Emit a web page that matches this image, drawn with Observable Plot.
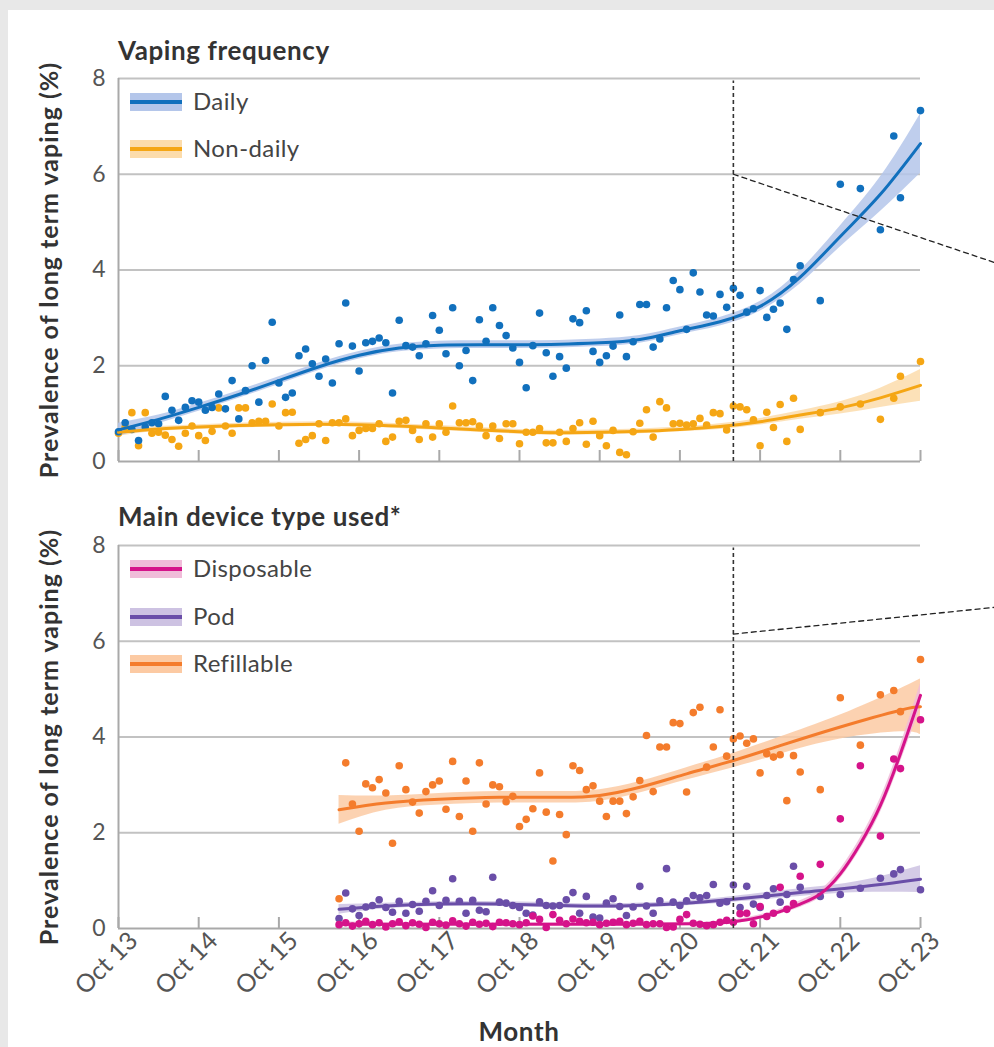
<!DOCTYPE html>
<html>
<head>
<meta charset="utf-8">
<script src="https://cdn.jsdelivr.net/npm/d3@7"></script>
<script src="https://cdn.jsdelivr.net/npm/@observablehq/plot@0.6"></script>
<style>
  html, body { margin: 0; padding: 0; background: #e8e8e8; }
  #page { position: relative; width: 994px; height: 1047px; overflow: hidden; font-family: Lato, "DejaVu Sans", sans-serif; }
  #card { position: absolute; left: 8px; top: 10px; right: 0; bottom: 0; background: #fff; }
  .abs { position: absolute; }
  .ptitle { font-weight: 700; font-size: 26px; letter-spacing: 0.6px; color: #333; line-height: 26px; white-space: nowrap; }
  .ylab { font-weight: 700; font-size: 25px; letter-spacing: 1px; color: #333; line-height: 30px; height: 30px; width: 460px; text-align: center; white-space: nowrap; transform: rotate(-90deg); transform-origin: 50% 50%; }
  .lg-sw { position: absolute; width: 52px; height: 18px; }
  .lg-ln { position: absolute; left: 0; right: 0; top: 7px; height: 4px; }
  .lg-tx { position: absolute; font-size: 24px; letter-spacing: 0.4px; color: #444; line-height: 1; white-space: nowrap; }
  svg { position: absolute; left: 0; }
</style>
</head>
<body>
<div id="page">
  <div id="card"></div>
</div>
<script>
// ---------- data ----------
const tickMonths = [0, 12, 24, 36, 48, 60, 72, 84, 96, 108, 120];
const tickLabels = ["Oct 13", "Oct 14", "Oct 15", "Oct 16", "Oct 17", "Oct 18", "Oct 19", "Oct 20", "Oct 21", "Oct 22", "Oct 23"];
const yTicks = [0, 2, 4, 6, 8];
const yGrid = [2, 4, 6, 8];

// months since Oct 2013
const topMonths = d3.range(0, 103).concat([105, 108, 111, 114, 116, 117, 120]);
const dailyValues = [
  0.62, 0.81, 0.67, 0.44, 0.72, 0.81, 0.79, 1.36, 1.07, 0.86,
  1.13, 1.27, 1.24, 1.07, 1.13, 1.41, 1.10, 1.69, 0.89, 1.48,
  2.00, 1.24, 2.11, 2.91, 1.64, 1.34, 1.43, 2.21, 2.35, 2.04,
  1.78, 2.14, 1.64, 2.46, 3.31, 2.41, 1.89, 2.48, 2.51, 2.58,
  2.48, 1.43, 2.95, 2.42, 2.39, 2.21, 2.46, 3.05, 2.74, 2.25,
  3.21, 2.00, 2.32, 1.69, 2.96, 2.51, 3.21, 2.84, 2.63, 2.37,
  2.07, 1.54, 2.42, 3.10, 2.27, 1.78, 2.19, 1.95, 2.98, 2.90,
  3.15, 2.30, 2.07, 2.21, 2.41, 3.06, 2.19, 2.50, 3.28, 3.28,
  2.39, 2.56, 3.21, 3.78, 3.59, 2.76, 3.94, 3.54, 3.06, 3.04,
  3.49, 3.22, 3.62, 3.47, 3.12, 3.19, 3.57, 3.01, 3.18, 3.31,
  2.76, 3.80, 4.09,
  3.36, 5.79, 5.70, 4.84, 6.80, 5.51, 7.33
];
const nondailyValues = [
  0.59, 0.72, 1.02, 0.33, 1.02, 0.59, 0.61, 0.55, 0.46, 0.32,
  0.59, 0.74, 0.54, 0.44, 0.63, 1.12, 0.74, 0.59, 1.12, 1.12,
  0.81, 0.84, 0.84, 1.20, 0.74, 1.02, 1.03, 0.38, 0.46, 0.54,
  0.79, 0.44, 0.81, 0.81, 0.89, 0.54, 0.65, 0.69, 0.69, 0.79,
  0.42, 0.51, 0.84, 0.86, 0.65, 0.46, 0.79, 0.51, 0.79, 0.61,
  1.16, 0.81, 0.81, 0.83, 0.74, 0.54, 0.74, 0.48, 0.79, 0.79,
  0.37, 0.61, 0.61, 0.69, 0.39, 0.39, 0.61, 0.42, 0.69, 0.81,
  0.36, 0.84, 0.54, 0.33, 0.65, 0.19, 0.14, 0.62, 0.80, 1.08,
  0.51, 1.25, 1.12, 0.79, 0.80, 0.76, 0.79, 0.90, 0.76, 1.02,
  1.00, 0.66, 1.16, 1.14, 1.08, 0.87, 0.33, 1.03, 0.71, 1.19,
  0.42, 1.32, 0.67,
  1.02, 1.14, 1.20, 0.88, 1.32, 1.78, 2.09
];

const deviceMonths = d3.range(33, 103).concat([105, 108, 111, 114, 116, 117, 120]);
const refillableValues = [
  0.62, 3.46, 2.60, 2.03, 3.02, 2.94, 3.11, 2.83, 1.78, 3.40,
  2.90, 2.64, 2.41, 2.86, 3.00, 3.08, 2.49, 3.49, 2.34, 3.08,
  2.03, 3.46, 2.60, 3.00, 2.96, 2.65, 2.76, 2.13, 2.28, 2.50,
  3.25, 2.43, 1.41, 2.38, 1.96, 3.40, 3.30, 2.90, 2.98, 2.66,
  2.34, 2.66, 2.66, 2.40, 2.75, 3.09, 4.03, 2.86, 3.79, 3.79,
  4.30, 4.28, 2.85, 4.51, 4.62, 3.37, 3.79, 4.57, 3.60, 3.96,
  4.02, 3.87, 3.96, 3.25, 3.65, 3.58, 3.63, 2.67, 3.61, 3.27,
  2.90, 4.82, 3.83, 4.88, 4.97, 4.53, 5.62
];
const podValues = [
  0.21, 0.74, 0.41, 0.27, 0.45, 0.48, 0.60, 0.44, 0.34, 0.57,
  0.32, 0.50, 0.36, 0.57, 0.79, 0.48, 0.59, 1.04, 0.57, 0.32,
  0.59, 0.38, 0.35, 1.07, 0.55, 0.53, 0.48, 0.44, 0.32, 0.28,
  0.56, 0.48, 0.47, 0.48, 0.60, 0.75, 0.32, 0.67, 0.24, 0.22,
  0.53, 0.62, 0.46, 0.27, 0.45, 0.88, 0.47, 0.32, 0.58, 1.25,
  0.55, 0.48, 0.58, 0.69, 0.64, 0.69, 0.92, 0.53, 0.56, 0.91,
  0.44, 0.88, 0.51, 0.44, 0.69, 0.83, 0.55, 0.71, 1.30, 0.86,
  0.67, 0.71, 0.84, 1.05, 1.14, 1.23, 0.81
];
const disposableValues = [
  0.08, 0.12, 0.05, 0.10, 0.15, 0.08, 0.12, 0.03, 0.10, 0.14,
  0.06, 0.12, 0.09, 0.02, 0.13, 0.10, 0.07, 0.16, 0.10, 0.05,
  0.13, 0.09, 0.11, 0.04, 0.13, 0.12, 0.10, 0.08, 0.12, 0.26,
  0.19, 0.02, 0.29, 0.17, 0.10, 0.20, 0.15, 0.12, 0.13, 0.08,
  0.11, 0.13, 0.15, 0.08, 0.11, 0.15, 0.08, 0.10, 0.10, 0.02,
  0.03, 0.19, 0.29, 0.11, 0.09, 0.06, 0.08, 0.13, 0.17, 0.13,
  0.31, 0.32, 0.10, 0.46, 0.25, 0.32, 0.86, 0.40, 0.52, 1.09,
  1.34, 2.29, 3.40, 1.93, 3.54, 3.34, 4.36
];

// fitted trends: month, fit, half-width of 95% CI
const topFitMonths = [0, 6, 12, 18, 24, 30, 36, 42, 48, 54, 60, 66, 72, 78, 84, 90, 96, 102, 108, 114, 120];
const dailyFit     = [0.66, 0.88, 1.13, 1.40, 1.69, 1.98, 2.22, 2.37, 2.43, 2.44, 2.44, 2.45, 2.48, 2.55, 2.73, 2.92, 3.24, 3.85, 4.70, 5.58, 6.64];
const dailyHalf    = [0.14, 0.09, 0.08, 0.08, 0.08, 0.08, 0.08, 0.08, 0.08, 0.08, 0.08, 0.08, 0.08, 0.08, 0.08, 0.09, 0.10, 0.14, 0.22, 0.36, 0.62];
const nondailyFit  = [0.61, 0.68, 0.72, 0.75, 0.77, 0.78, 0.77, 0.74, 0.70, 0.66, 0.62, 0.60, 0.61, 0.63, 0.67, 0.73, 0.83, 0.97, 1.12, 1.33, 1.59];
const nondailyHalf = [0.08, 0.05, 0.05, 0.05, 0.05, 0.05, 0.05, 0.05, 0.05, 0.05, 0.05, 0.05, 0.05, 0.05, 0.05, 0.06, 0.07, 0.09, 0.13, 0.20, 0.33];

const dispFitMonths = [33, 42, 54, 66, 78, 86, 92, 98, 102, 105, 108, 111, 114, 117, 120];
const dispFit       = [0.09, 0.09, 0.09, 0.09, 0.09, 0.10, 0.14, 0.31, 0.51, 0.72, 1.14, 1.77, 2.57, 3.65, 4.87];
const dispHalf      = [0.05, 0.03, 0.03, 0.03, 0.03, 0.03, 0.04, 0.05, 0.07, 0.08, 0.10, 0.12, 0.15, 0.18, 0.25];
const podFitMonths  = [33, 40, 48, 57, 66, 75, 84, 92, 102, 111, 120];
const podFit        = [0.40, 0.47, 0.51, 0.51, 0.48, 0.47, 0.52, 0.61, 0.75, 0.87, 1.03];
const podHalf       = [0.10, 0.06, 0.05, 0.05, 0.05, 0.05, 0.05, 0.06, 0.08, 0.12, 0.28];
const refFitMonths  = [33, 40, 48, 57, 66, 72, 78, 85, 92, 99, 108, 117, 120];
const refFit        = [2.48, 2.62, 2.70, 2.74, 2.74, 2.78, 2.95, 3.23, 3.51, 3.82, 4.21, 4.56, 4.63];
const refHalf       = [0.30, 0.15, 0.12, 0.12, 0.12, 0.12, 0.12, 0.13, 0.15, 0.18, 0.25, 0.45, 0.58];

// annotations
const markerMonth = 92;             // Jun 2021 dashed marker
const topConnector = [[92, 6.00], [131.2, 4.15]];
const bottomConnector = [[92, 6.15], [131.2, 6.71]];

const yLabel = "Prevalence of long term vaping (%)";

const colors = {
  Daily: ["#1170bd", "#b4c6ea"],
  "Non-daily": ["#f5a614", "#fcdcab"],
  Disposable: ["#d5138a", "#f0bcd9"],
  Pod: ["#6a4ea8", "#cdc2e2"],
  Refillable: ["#f47c2c", "#fccaa3"]
};

// ---------- helpers ----------
const pts = (months, vals) => months.map((m, i) => ({m, v: vals[i]}));
const fit = (months, vals, half) => months.map((m, i) => ({m, v: vals[i], lo: vals[i] - half[i], hi: vals[i] + half[i]}));

function seriesMarks(points, fitRows, name) {
  const [c, band] = colors[name];
  return {
    band: Plot.areaY(fitRows, {x: "m", y1: "lo", y2: "hi", curve: "natural", fill: band, fillOpacity: 0.85}),
    dots: Plot.dot(points, {x: "m", y: "v", r: 3.8, fill: c, stroke: "none"}),
    line: Plot.line(fitRows, {x: "m", y: "v", curve: "natural", stroke: c, strokeWidth: 3})
  };
}

function frameMarks() {
  return [
    Plot.gridY(yGrid, {stroke: "#c2c2c2", strokeOpacity: 1, strokeWidth: 2}),
    Plot.axisY(yTicks, {tickSize: 0, tickPadding: 13, fontSize: 23, color: "#555", label: null}),
    Plot.ruleX([0], {y1: 0, y2: 8, stroke: "#a9a9a9", strokeWidth: 2}),
    Plot.ruleY([0], {stroke: "#a9a9a9", strokeWidth: 2}),
    Plot.ruleX(tickMonths, {y1: 0, y2: 0.23, stroke: "#a9a9a9", strokeWidth: 2})
  ];
}

const dashedMarks = (conn) => [
  Plot.ruleX([markerMonth], {y1: 0, y2: 7.95, stroke: "#333", strokeWidth: 1.6, strokeDasharray: "4,3"}),
  Plot.line(conn, {x: d => d[0], y: d => d[1], stroke: "#222", strokeWidth: 1.3, strokeDasharray: "5,4"})
];

const common = {
  width: 994, marginLeft: 118, marginRight: 74,
  x: {domain: [0, 120], axis: null},
  y: {domain: [0, 8], axis: null},
  style: {background: "transparent", fontFamily: "Lato, 'DejaVu Sans', sans-serif", overflow: "visible"}
};

// ---------- top panel ----------
const sD = seriesMarks(pts(topMonths, dailyValues), fit(topFitMonths, dailyFit, dailyHalf), "Daily");
const sN = seriesMarks(pts(topMonths, nondailyValues), fit(topFitMonths, nondailyFit, nondailyHalf), "Non-daily");
const topPlot = Plot.plot({
  ...common, height: 480, marginTop: 78, marginBottom: 19,
  marks: [
    ...frameMarks(),
    sN.band, sD.band,
    sN.dots, sD.dots,
    sN.line, sD.line,
    ...dashedMarks(topConnector)
  ]
});
topPlot.style.top = "0px";

// ---------- bottom panel ----------
const sR = seriesMarks(pts(deviceMonths, refillableValues), fit(refFitMonths, refFit, refHalf), "Refillable");
const sP = seriesMarks(pts(deviceMonths, podValues), fit(podFitMonths, podFit, podHalf), "Pod");
const sDi = seriesMarks(pts(deviceMonths, disposableValues), fit(dispFitMonths, dispFit, dispHalf), "Disposable");
const bottomPlot = Plot.plot({
  ...common, height: 567, marginTop: 65, marginBottom: 119,
  marks: [
    ...frameMarks(),
    Plot.axisX(tickMonths, {
      tickSize: 0, tickPadding: 8, tickRotate: -45, fontSize: 25, color: "#555", label: null, dx: 15,
      tickFormat: d => tickLabels[tickMonths.indexOf(d)]
    }),
    sR.band, sP.band, sDi.band,
    sR.dots, sP.dots, sDi.dots,
    sR.line, sP.line, sDi.line,
    ...dashedMarks(bottomConnector)
  ]
});
bottomPlot.style.top = "480px";

const page = document.getElementById("page");
page.appendChild(topPlot);
page.appendChild(bottomPlot);

// ---------- titles, legends, axis titles ----------
function addText(cls, text, left, top, extra) {
  const d = document.createElement("div");
  d.className = "abs " + cls;
  d.textContent = text;
  d.style.left = left + "px";
  d.style.top = top + "px";
  if (extra) Object.assign(d.style, extra);
  page.appendChild(d);
  return d;
}
addText("ptitle", "Vaping frequency", 118, 37);
addText("ptitle", "Main device type used*", 118, 503);
addText("ptitle", "Month", 0, 1018, {width: "1038px", textAlign: "center"});
// rotated y-axis titles, centred on each plot area (x ≈ 48)
addText("ylab", yLabel, 48 - 230, 269.5 - 15);
addText("ylab", yLabel, 48 - 230, 736.5 - 15);

function legend(items, centers) {
  items.forEach((name, i) => {
    const [c, band] = colors[name];
    const cy = centers[i];
    const sw = document.createElement("div");
    sw.className = "lg-sw";
    sw.style.left = "130px";
    sw.style.top = (cy - 9) + "px";
    sw.style.background = band;
    const ln = document.createElement("div");
    ln.className = "lg-ln";
    ln.style.background = c;
    sw.appendChild(ln);
    page.appendChild(sw);
    addText("lg-tx", name, 193, cy - 13);
  });
}
legend(["Daily", "Non-daily"], [102, 149]);
legend(["Disposable", "Pod", "Refillable"], [569, 617, 664]);
</script>
</body>
</html>
